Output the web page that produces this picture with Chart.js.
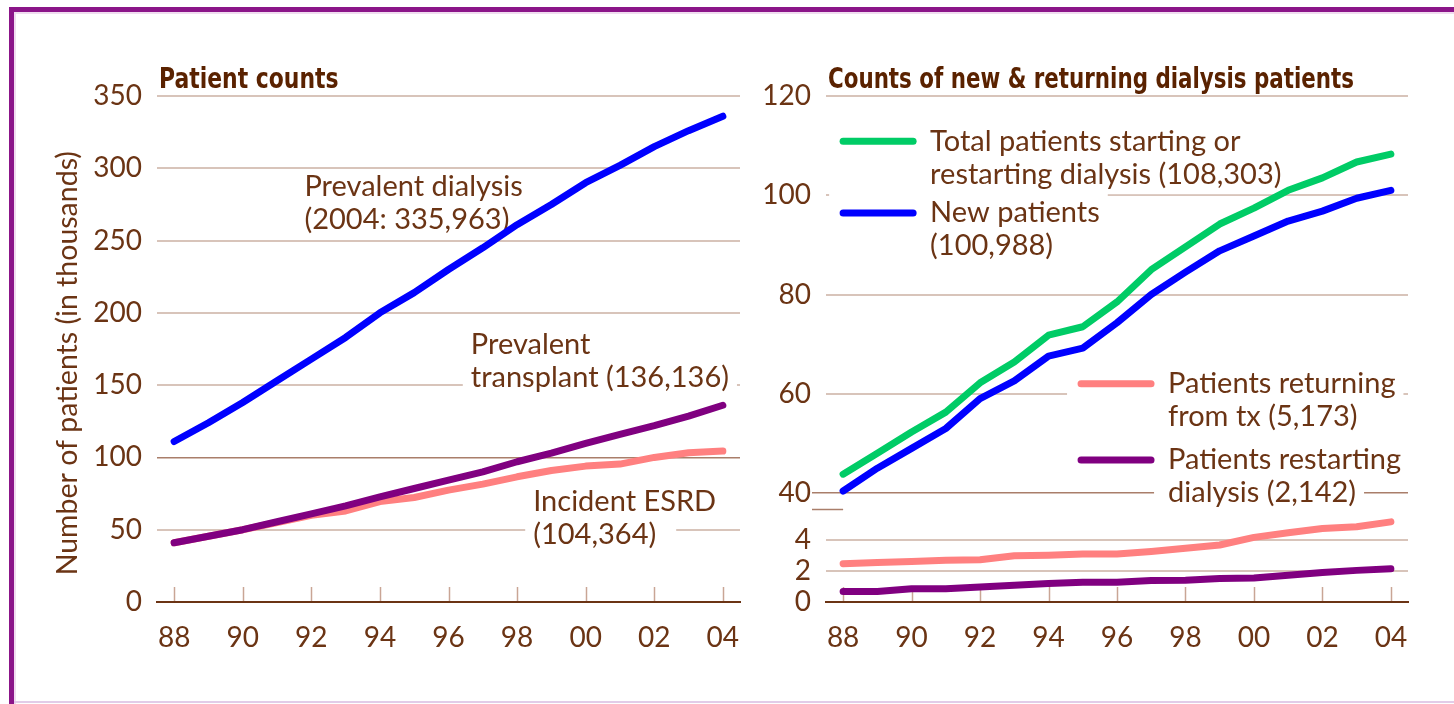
<!DOCTYPE html>
<html><head><meta charset="utf-8">
<script src="https://cdn.jsdelivr.net/npm/chart.js@4.4.0/dist/chart.umd.min.js"></script>
<style>
html,body{margin:0;padding:0;background:#fff;}
body{width:1454px;height:704px;position:relative;overflow:hidden;}
#frameL{position:absolute;left:9px;top:7px;width:5px;height:697px;background:#8B1589;}
#frameT{position:absolute;left:9px;top:7px;width:1445px;height:5px;background:#8B1589;}
#innerL{position:absolute;left:14px;top:12px;width:2px;height:692px;background:#F0DCF0;}
#innerT{position:absolute;left:14px;top:12px;width:1440px;height:2px;background:#F0DCF0;}
#frameB{position:absolute;left:14px;top:701px;width:1440px;height:2px;background:#E2CCE8;}
#w1{position:absolute;left:0;top:0;width:760px;height:704px;}
#w2{position:absolute;left:760px;top:0;width:694px;height:704px;}
</style>
</head><body>
<div id="frameL"></div><div id="frameT"></div><div id="innerL"></div><div id="innerT"></div><div id="frameB"></div>
<div id="w1"><canvas id="c1" width="760" height="704"></canvas></div>
<div id="w2"><canvas id="c2" width="694" height="704"></canvas></div>
<script>
// ---------- data ----------
const years = ['88','89','90','91','92','93','94','95','96','97','98','99','00','01','02','03','04'];
const prevalentDialysis   = [111,124,138,153,168,183,200,214,230,245,261,275,290,302,315,326,336];
const prevalentTransplant = [41,45.5,50,55.5,61,66.5,72.7,78.5,84.3,90,97,103,109.7,116,122,128.6,136.1];
const incidentESRD        = [41,45.5,50,55,60,63,69.5,72.3,77.4,81.5,86.6,91,94,95.4,100,103.2,104.4];
const totalStartRestart   = [43.8,48,52.3,56.3,62.2,66.4,71.8,73.5,78.5,85,89.6,94.2,97.4,101,103.5,106.7,108.3];
const newPatients         = [40.4,45,49,53,59,62.6,67.6,69.2,74.3,80,84.5,88.8,91.8,94.8,96.8,99.4,101];
const returningFromTx     = [2.47,2.55,2.62,2.7,2.72,2.98,3.02,3.09,3.09,3.26,3.47,3.68,4.17,4.47,4.74,4.85,5.17];
const restartingDialysis  = [0.68,0.68,0.85,0.85,0.96,1.08,1.19,1.28,1.28,1.38,1.4,1.51,1.55,1.72,1.91,2.04,2.14];
const leftTicks = [0,50,100,150,200,250,300,350];
const rightTopTicks = [40,60,80,100,120];
const rightBottomTicks = [0,2,4];

// ---------- styles ----------
const BROWN = '#6B3414';
const TITLE_BROWN = '#5A2200';
const GRID = '#D8C4BA';
const GRID_DARK = '#A97E6A';
const FONT_FAMILY = 'Lato, "Noto Sans", sans-serif';
const TITLE_FAMILY = '"Liberation Sans Narrow", "DejaVu Sans Condensed", sans-serif';
const C_BLUE = '#0000FF', C_PURPLE = '#800080', C_PINK = '#FF8080', C_GREEN = '#00CC66';

const lineDS = (label, data, color, axis) => ({
  label, data, borderColor: color, backgroundColor: color, borderWidth: 7,
  pointRadius: 0, tension: 0, borderCapStyle: 'round', borderJoinStyle: 'round',
  yAxisID: axis || 'y', fill: false
});

// tick marks pointing up into plot area
const upTicks = {
  id: 'upTicks',
  beforeDatasetsDraw(chart) {
    const {ctx, chartArea} = chart; const xs = chart.scales.x;
    ctx.save(); ctx.strokeStyle = '#C9A595'; ctx.lineWidth = 1.5;
    xs.ticks.forEach((t, i) => {
      if (i % 2) return;
      const x = Math.round(xs.getPixelForTick(i)) + 0.5;
      ctx.beginPath(); ctx.moveTo(x, chartArea.bottom - 15); ctx.lineTo(x, chartArea.bottom - 1); ctx.stroke();
    });
    ctx.restore();
  }
};

// panel title (condensed bold, left-aligned on plot area)
const panelTitle = {
  id: 'panelTitle',
  afterDraw(chart, args, opts) {
    if (!opts.text) return;
    const {ctx, chartArea} = chart;
    ctx.save();
    ctx.translate(chartArea.left + 2, chartArea.top - 8);
    ctx.scale(opts.squeeze || 0.87, 1);
    ctx.font = 'bold 29px ' + TITLE_FAMILY;
    ctx.fillStyle = TITLE_BROWN; ctx.textAlign = 'left'; ctx.textBaseline = 'alphabetic';
    ctx.fillText(opts.text, 0, 0);
    ctx.restore();
  }
};

// text notes / legend entries with white backing
const notes = {
  id: 'notes',
  beforeDatasetsDraw(chart, args, opts) {
    const {ctx} = chart; const xs = chart.scales.x;
    const items = opts.items || [];
    ctx.save();
    ctx.font = opts.font;
    const prepared = items.map(it => {
      const ys = chart.scales[it.axis || 'y'];
      const x0 = xs.getPixelForValue(it.x);
      const y0 = ys.getPixelForValue(it.y);
      const tx = it.sample ? x0 + opts.sampleLen + opts.gap : x0;
      return {it, x0, y0, tx};
    });
    ctx.fillStyle = '#fff';
    prepared.forEach(({it, x0, y0, tx}) => {
      it.lines.forEach((t, i) => {
        const w = ctx.measureText(t).width;
        const yy = y0 + i * opts.lineHeight;
        const left = (i === 0 && it.sample) ? x0 - (it.padL || 12) : tx - (it.padL || 8);
        const right = tx + w + (it.padR || 8);
        const half = it.half || 16;
        ctx.fillRect(left, yy - half, right - left, half * 2);
      });
    });
    prepared.forEach(({it, x0, y0, tx}) => {
      if (it.sample) {
        ctx.strokeStyle = it.sample; ctx.lineWidth = 7; ctx.lineCap = 'round';
        ctx.beginPath(); ctx.moveTo(x0, y0); ctx.lineTo(x0 + opts.sampleLen, y0); ctx.stroke();
      }
      ctx.fillStyle = BROWN; ctx.textBaseline = 'middle'; ctx.textAlign = 'left';
      it.lines.forEach((t, i) => ctx.fillText(t, tx, y0 + i * opts.lineHeight));
    });
    ctx.restore();
  }
};

// y axis title (left chart)
const yTitle = {
  id: 'yTitle',
  afterDraw(chart, args, opts) {
    if (!opts.text) return;
    const {ctx, chartArea} = chart;
    ctx.save();
    ctx.translate(chartArea.left - 89, chartArea.top + 0.528 * (chartArea.bottom - chartArea.top));
    ctx.rotate(-Math.PI / 2);
    ctx.font = opts.font; ctx.fillStyle = BROWN; ctx.textAlign = 'center'; ctx.textBaseline = 'middle';
    ctx.fillText(opts.text, 0, 0);
    ctx.restore();
  }
};

// axis break mark (right chart)
const breakMark = {
  id: 'breakMark',
  afterDraw(chart, args, opts) {
    if (!opts.on) return;
    const {ctx, chartArea} = chart; const yb = chart.scales.yBot; const xs = chart.scales.x;
    const y = Math.round(yb.top) + 0.5;
    ctx.save(); ctx.strokeStyle = GRID_DARK; ctx.lineWidth = 1.5;
    ctx.beginPath(); ctx.moveTo(chartArea.left - 14, y); ctx.lineTo(xs.getPixelForTick(0), y); ctx.stroke();
    ctx.restore();
  }
};

Chart.defaults.font.family = FONT_FAMILY;
Chart.defaults.color = BROWN;
Chart.defaults.animation = false;
Chart.defaults.responsive = false;

const xScale = {
  type: 'category', offset: true,
  grid: {display: false},
  border: {display: true, color: BROWN, width: 2},
  ticks: {color: BROWN, font: {size: 28}, padding: 11, autoSkip: false, maxRotation: 0,
          callback: (v, i) => (i % 2 === 0 ? years[i] : '')},
  afterFit: s => { s.height = 70; }
};

const NOTE_FONT = '29px ' + FONT_FAMILY;

// ---------- left chart ----------
new Chart(document.getElementById('c1'), {
  type: 'line',
  data: {labels: years, datasets: [
    lineDS('Prevalent dialysis', prevalentDialysis, C_BLUE),
    lineDS('Prevalent transplant', prevalentTransplant, C_PURPLE),
    lineDS('Incident ESRD', incidentESRD, C_PINK)
  ]},
  options: {
    layout: {padding: {left: 0, right: 20, top: 96, bottom: 32}},
    scales: {
      x: xScale,
      y: {
        min: 0, max: 350,
        afterBuildTicks: s => { s.ticks = leftTicks.map(v => ({value: v})); },
        afterFit: s => { s.width = 157; },
        grid: {drawTicks: false, lineWidth: c => (c.tick && c.tick.value === 100 ? 1.5 : 2),
               color: c => (c.tick && c.tick.value === 0 ? 'rgba(0,0,0,0)' : (c.tick && c.tick.value === 100 ? GRID_DARK : GRID))},
        border: {display: false},
        ticks: {color: BROWN, font: {size: 28}, padding: 15, autoSkip: false}
      }
    },
    plugins: {
      legend: {display: false}, tooltip: {enabled: false}, title: {display: false},
      panelTitle: {text: 'Patient counts', squeeze: 0.84},
      yTitle: {text: 'Number of patients (in thousands)', font: '28.5px ' + FONT_FAMILY},
      notes: {font: NOTE_FONT, lineHeight: 33, sampleLen: 70, gap: 17, items: [
        {x: 3.8, y: 287, lines: ['Prevalent dialysis', '(2004: 335,963)'], half: 16},
        {x: 8.65, y: 177.8, lines: ['Prevalent', 'transplant (136,136)'], half: 16},
        {x: 10.47, y: 69.2, lines: ['Incident ESRD', '(104,364)'], half: 16, padR: 20}
      ]}
    }
  },
  plugins: [upTicks, notes, yTitle, panelTitle]
});

// ---------- right chart ----------
new Chart(document.getElementById('c2'), {
  type: 'line',
  data: {labels: years, datasets: [
    lineDS('Total patients starting or restarting dialysis', totalStartRestart, C_GREEN, 'yTop'),
    lineDS('New patients', newPatients, C_BLUE, 'yTop'),
    lineDS('Patients returning from tx', returningFromTx, C_PINK, 'yBot'),
    lineDS('Patients restarting dialysis', restartingDialysis, C_PURPLE, 'yBot')
  ]},
  options: {
    layout: {padding: {left: 0, right: 46, top: 96, bottom: 32}},
    scales: {
      x: xScale,
      yBot: {
        position: 'left', stack: 'r', stackWeight: 93,
        min: 0, max: 6,
        afterBuildTicks: s => { s.ticks = rightBottomTicks.map(v => ({value: v})); },
        afterFit: s => { s.width = 66; },
        grid: {drawTicks: true, tickLength: 14, tickColor: 'rgba(0,0,0,0)', lineWidth: 2,
               color: c => (c.tick && c.tick.value === 0 ? 'rgba(0,0,0,0)' : GRID)},
        border: {display: false},
        ticks: {color: BROWN, font: {size: 28, lineHeight: 1}, padding: 1, autoSkip: false}
      },
      yTop: {
        position: 'left', stack: 'r', stackWeight: 413,
        min: 36.78, max: 120,
        afterBuildTicks: s => { s.ticks = rightTopTicks.map(v => ({value: v})); },
        afterFit: s => { s.width = 66; },
        grid: {drawTicks: true, tickLength: 14, lineWidth: c => (c.tick && c.tick.value === 40 ? 1.5 : 2),
               tickColor: c => (c.tick && c.tick.value === 40 ? GRID_DARK : 'rgba(0,0,0,0)'), tickWidth: 1.5,
               color: c => (c.tick && c.tick.value === 40 ? GRID_DARK : GRID)},
        border: {display: false},
        ticks: {color: BROWN, font: {size: 28}, padding: 1, autoSkip: false}
      }
    },
    plugins: {
      legend: {display: false}, tooltip: {enabled: false}, title: {display: false},
      panelTitle: {text: 'Counts of new & returning dialysis patients', squeeze: 0.82},
      breakMark: {on: true},
      notes: {font: NOTE_FONT, lineHeight: 33, sampleLen: 70, gap: 17, items: [
        {x: 0, y: 110.9, axis: 'yTop', sample: C_GREEN, lines: ['Total patients starting or', 'restarting dialysis (108,303)'], half: 20, padL: 14},
        {x: 0, y: 96.4, axis: 'yTop', sample: C_BLUE, lines: ['New patients', '(100,988)'], half: 20, padL: 14},
        {x: 6.95, y: 62, axis: 'yTop', sample: C_PINK, lines: ['Patients returning', 'from tx (5,173)'], half: 16, padL: 14},
        {x: 6.95, y: 46.65, axis: 'yTop', sample: C_PURPLE, lines: ['Patients restarting', 'dialysis (2,142)'], half: 16, padL: 14}
      ]}
    }
  },
  plugins: [upTicks, notes, breakMark, panelTitle]
});
</script>
</body></html>
